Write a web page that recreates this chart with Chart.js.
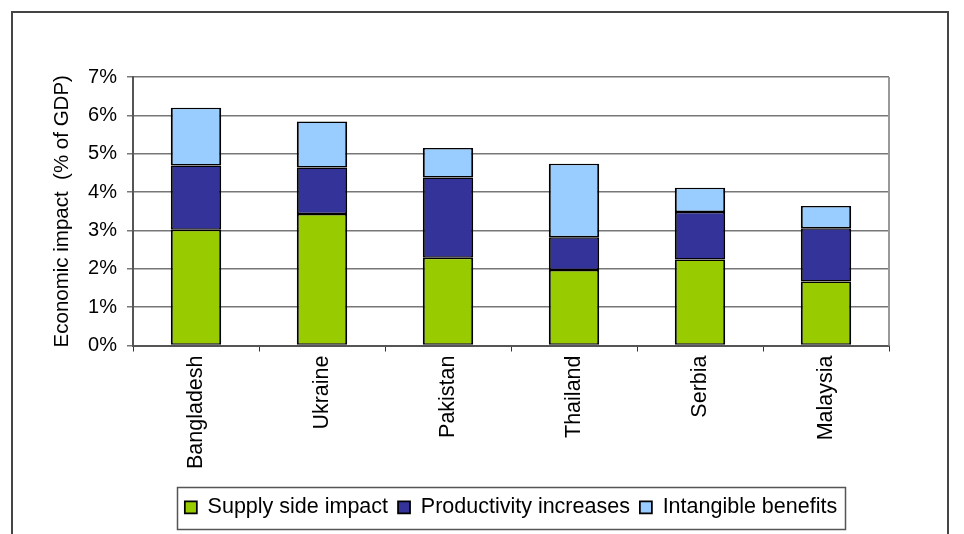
<!DOCTYPE html>
<html>
<head>
<meta charset="utf-8">
<title>Economic impact</title>
<script src="https://cdn.jsdelivr.net/npm/chart.js@4.4.1/dist/chart.umd.min.js"></script>
<style>
  html, body { margin: 0; padding: 0; background: #fff; }
  canvas { display: block; }
</style>
</head>
<body>
<canvas id="impactChart" width="964" height="534"></canvas>
<script>
// countries and the three components of impact, in % of GDP
const countries = ['Bangladesh', 'Ukraine', 'Pakistan', 'Thailand', 'Serbia', 'Malaysia'];
const supplySide = [3.02, 3.43, 2.29, 1.97, 2.24, 1.67];
const productivity = [1.67, 1.21, 2.09, 0.85, 1.24, 1.39];
const intangible = [1.51, 1.20, 0.77, 1.92, 0.63, 0.58];
const yTicks = [0, 1, 2, 3, 4, 5, 6, 7];

const FONT = "'Liberation Sans', Arial, sans-serif";
const BAR_BORDER = { top: 1.5, bottom: 1.5, left: 2, right: 2 };

// outer frame, right edge of the plot and box around the legend
const framePlugin = {
    id: 'frames',
    afterDraw(chart) {
        const ctx = chart.ctx;
        const area = chart.chartArea;
        ctx.save();

        ctx.strokeStyle = '#444';
        ctx.lineWidth = 2;
        ctx.strokeRect(12, 12, 936, 600);

        ctx.strokeStyle = '#999';
        ctx.lineWidth = 2;
        ctx.beginPath();
        ctx.moveTo(area.right, area.top);
        ctx.lineTo(area.right, area.bottom);
        ctx.stroke();

        const legend = chart.legend;
        const boxes = legend.legendHitBoxes;
        if (boxes && boxes.length) {
            const first = boxes[0];
            const last = boxes[boxes.length - 1];
            const x0 = Math.round(first.left - 8) + 0.5;
            const x1 = Math.round(last.left + last.width + 8) + 0.5;
            ctx.strokeStyle = '#555';
            ctx.lineWidth = 1.5;
            ctx.strokeRect(x0, Math.round(legend.top) + 0.5, x1 - x0, Math.round(legend.height));
        }
        ctx.restore();
    }
};

const ctx = document.getElementById('impactChart').getContext('2d');
new Chart(ctx, {
    type: 'bar',
    data: {
        labels: countries,
        datasets: [{
            label: 'Supply side impact',
            data: supplySide,
            backgroundColor: '#99CC00'
        }, {
            label: 'Productivity increases',
            data: productivity,
            backgroundColor: '#333399'
        }, {
            label: 'Intangible benefits',
            data: intangible,
            backgroundColor: '#99CCFF'
        }]
    },
    options: {
        responsive: false,
        animation: false,
        devicePixelRatio: 1,
        categoryPercentage: 1,
        barPercentage: 0.4,
        datasets: {
            bar: {
                borderColor: '#000',
                borderWidth: BAR_BORDER,
                borderSkipped: false,
                inflateAmount: 0
            }
        },
        layout: {
            padding: { left: 40, top: 77, right: 75, bottom: 6 }
        },
        scales: {
            x: {
                stacked: true,
                grid: {
                    drawOnChartArea: false,
                    drawTicks: true,
                    tickLength: 6,
                    color: '#333'
                },
                border: { color: '#555', width: 2 },
                ticks: {
                    minRotation: 90,
                    maxRotation: 90,
                    padding: 4,
                    color: '#000',
                    font: { family: FONT, size: 21.5 }
                },
                afterFit(scale) { scale.height = 141; }
            },
            y: {
                stacked: true,
                min: 0,
                max: 7,
                afterBuildTicks(scale) {
                    scale.ticks = yTicks.map(v => ({ value: v }));
                },
                grid: {
                    color: '#777',
                    lineWidth: 1.5,
                    drawTicks: true,
                    tickLength: 6
                },
                border: { color: '#555', width: 2 },
                ticks: {
                    padding: 10,
                    color: '#000',
                    font: { family: FONT, size: 20 },
                    callback: v => v + '%'
                },
                title: {
                    display: true,
                    text: 'Economic impact  (% of GDP)',
                    color: '#000',
                    padding: { top: 10, bottom: 0 },
                    font: { family: FONT, size: 20.5 }
                },
                afterFit(scale) { scale.width = 93; }
            }
        },
        plugins: {
            legend: {
                position: 'bottom',
                fullSize: false,
                labels: {
                    boxWidth: 12,
                    boxHeight: 12,
                    padding: 10,
                    color: '#000',
                    font: { family: FONT, size: 21.5 }
                }
            },
            tooltip: { enabled: false }
        }
    },
    plugins: [framePlugin]
});
</script>
</body>
</html>
